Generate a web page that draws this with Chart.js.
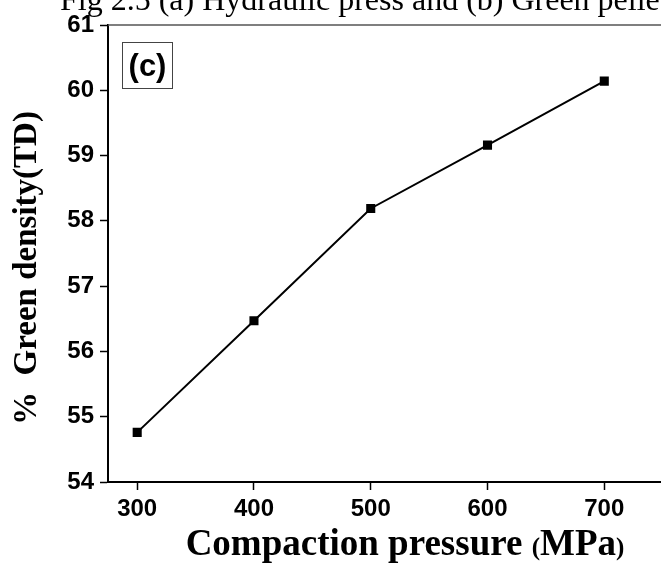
<!DOCTYPE html>
<html>
<head>
<meta charset="utf-8">
<script src="https://cdn.jsdelivr.net/npm/chart.js@4/dist/chart.umd.min.js"></script>
<style>
  html, body { margin: 0; padding: 0; background: #fff; overflow: hidden; }
  #wrap { width: 672px; height: 572px; }
</style>
</head>
<body>
<div id="wrap"><canvas id="chart"></canvas></div>
<script>
// data
const pressures = [300, 400, 500, 600, 700];
const greenDensity = [54.76, 56.47, 58.19, 59.16, 60.14];
const xTicks = [300, 400, 500, 600, 700];
const yTicks = [54, 55, 56, 57, 58, 59, 60, 61];

const captionText = 'Fig 2.5 (a) Hydraulic press and (b) Green pelle';
const panelLabel = '(c)';

// extra drawing: caption, frame, panel label, axis titles
const decorations = {
  id: 'decorations',
  afterDraw(chart) {
    const ctx = chart.ctx;
    const a = chart.chartArea;
    ctx.save();

    // caption cut at the top
    ctx.fillStyle = '#000';
    ctx.font = '32px "Liberation Serif", "Times New Roman", serif';
    ctx.textAlign = 'left';
    ctx.textBaseline = 'alphabetic';
    ctx.fillText(captionText, 60, 10);

    // top frame line
    ctx.strokeStyle = '#555';
    ctx.lineWidth = 1.5;
    ctx.beginPath();
    ctx.moveTo(a.left, a.top);
    ctx.lineTo(a.right, a.top);
    ctx.stroke();

    // panel label box
    ctx.strokeStyle = '#444';
    ctx.lineWidth = 1;
    ctx.strokeRect(122.5, 42.5, 50, 46);
    ctx.font = 'bold 31px "Liberation Sans", Arial, sans-serif';
    ctx.textAlign = 'center';
    ctx.textBaseline = 'middle';
    ctx.fillText(panelLabel, 147.5, 67);

    // y title
    ctx.save();
    ctx.translate(27, 268);
    ctx.rotate(-Math.PI / 2);
    ctx.font = 'bold 33px "Liberation Serif", "Times New Roman", serif';
    ctx.textAlign = 'center';
    ctx.textBaseline = 'middle';
    ctx.fillText('%  Green density(TD)', 0, 0);
    ctx.restore();

    // x title with smaller brackets
    const bigFont = 'bold 37px "Liberation Serif", "Times New Roman", serif';
    const smallFont = 'bold 25px "Liberation Serif", "Times New Roman", serif';
    const parts = [
      ['Compaction pressure ', bigFont],
      ['(', smallFont],
      ['MPa', bigFont],
      [')', smallFont]
    ];
    let total = 0;
    parts.forEach(p => { ctx.font = p[1]; total += ctx.measureText(p[0]).width; });
    let x = 405 - total / 2;
    ctx.textAlign = 'left';
    ctx.textBaseline = 'alphabetic';
    parts.forEach(p => {
      ctx.font = p[1];
      ctx.fillText(p[0], x, 555);
      x += ctx.measureText(p[0]).width;
    });

    ctx.restore();
  }
};

const ctx = document.getElementById('chart').getContext('2d');
new Chart(ctx, {
  type: 'line',
  data: {
    datasets: [{
      data: pressures.map((p, i) => ({ x: p, y: greenDensity[i] })),
      borderColor: '#000',
      backgroundColor: '#000',
      borderWidth: 2,
      pointStyle: 'rect',
      pointRadius: 5,
      pointHoverRadius: 5,
      tension: 0
    }]
  },
  options: {
    responsive: true,
    maintainAspectRatio: false,
    animation: false,
    layout: { padding: { top: 25, right: 0, left: 0, bottom: 0 } },
    plugins: {
      legend: { display: false },
      tooltip: { enabled: false }
    },
    scales: {
      x: {
        type: 'linear',
        min: 275,
        max: 752,
        afterBuildTicks: (axis) => { axis.ticks = xTicks.map(v => ({ value: v })); },
        afterFit: (axis) => { axis.height = 90; },
        border: { color: '#000', width: 2 },
        grid: { drawOnChartArea: false, tickLength: 8, color: '#000', tickWidth: 1.5 },
        ticks: {
          color: '#000',
          padding: 5,
          font: { family: '"Liberation Sans", Arial, sans-serif', size: 24, weight: 'bold' }
        }
      },
      y: {
        min: 54,
        max: 61,
        afterBuildTicks: (axis) => { axis.ticks = yTicks.map(v => ({ value: v })); },
        afterFit: (axis) => { axis.width = 108; },
        border: { color: '#000', width: 2 },
        grid: { drawOnChartArea: false, tickLength: 8, color: '#000', tickWidth: 1.5 },
        ticks: {
          color: '#000',
          padding: 6,
          font: { family: '"Liberation Sans", Arial, sans-serif', size: 24, weight: 'bold' }
        }
      }
    }
  },
  plugins: [decorations]
});
</script>
</body>
</html>
